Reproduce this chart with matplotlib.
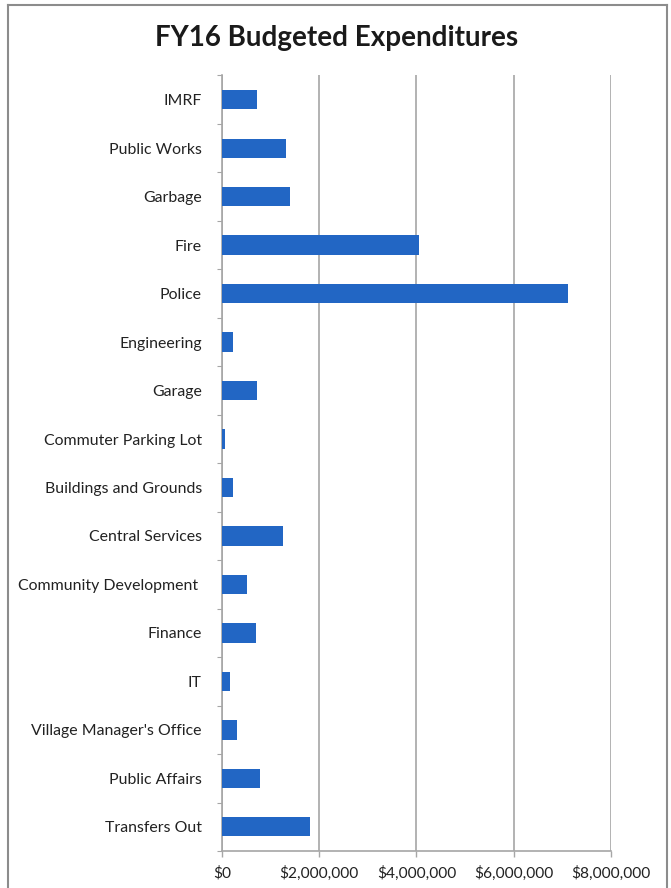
#!/usr/bin/env python3
"""
FY16 budgeted expenditures by department, horizontal bars
"""
import matplotlib
matplotlib.use('Agg')
import matplotlib.pyplot as plt
from matplotlib.lines import Line2D
from matplotlib.ticker import FuncFormatter, FixedLocator

departments = [
    'IMRF', 'Public Works', 'Garbage', 'Fire', 'Police', 'Engineering',
    'Garage', 'Commuter Parking Lot', 'Buildings and Grounds',
    'Central Services', 'Community Development ', 'Finance', 'IT',
    "Village Manager's Office", 'Public Affairs', 'Transfers Out',
]
budget = [
    730000, 1320000, 1390000, 4050000, 7110000, 230000,
    730000, 60000, 230000,
    1250000, 510000, 700000, 170000,
    310000, 790000, 1820000,
]
x_ticks = [0, 2000000, 4000000, 6000000, 8000000]

BAR = '#2266c4'
GRID = '#a6a6a6'
plt.rcParams['font.family'] = ['Lato', 'DejaVu Sans']

fig = plt.figure(figsize=(6.71, 8.88), dpi=100)
ax = fig.add_axes([222 / 671, 1 - 851 / 888, 389 / 671, 775.5 / 888])

pos = list(range(len(departments)))
ax.barh(pos, budget, height=0.4, color=BAR, zorder=3)
ax.set_ylim(len(departments) - 0.5, -0.5)
ax.set_xlim(0, 8000000)

ax.set_yticks(pos)
ax.set_yticklabels(departments, fontsize=11.4, color='#222222')
ax.yaxis.set_minor_locator(FixedLocator([p - 0.5 for p in pos] + [len(pos) - 0.5]))
ax.tick_params(axis='y', which='major', length=0, pad=14.5)
ax.tick_params(axis='y', which='minor', length=3.5, width=0.8, color=GRID)

ax.set_xticks(x_ticks)
ax.xaxis.set_major_formatter(FuncFormatter(lambda v, _: '${:,.0f}'.format(v)))
ax.tick_params(axis='x', length=4, width=1.0, color=GRID, pad=7,
               labelsize=11.2, labelcolor='#222222')
ax.grid(axis='x', color=GRID, linewidth=1.2, zorder=1)

for side in ('top', 'right'):
  ax.spines[side].set_visible(False)
for side in ('left', 'bottom'):
  ax.spines[side].set_color(GRID)
  ax.spines[side].set_linewidth(1.2)

fig.text(337 / 671, 1 - 38 / 888, 'FY16 Budgeted Expenditures',
         ha='center', va='center', fontsize=20, fontweight='bold',
         color='#1a1a1a')

# outer chart frame
frame = dict(color='#8c8c8c', linewidth=1.5, transform=fig.transFigure)
fig.add_artist(Line2D([8 / 671, 8 / 671], [0, 1 - 5 / 888], **frame))
fig.add_artist(Line2D([8 / 671, 667 / 671], [1 - 5 / 888, 1 - 5 / 888], **frame))
fig.add_artist(Line2D([667 / 671, 667 / 671], [0, 1 - 5 / 888], **frame))

fig.savefig('out.png', dpi=100)
